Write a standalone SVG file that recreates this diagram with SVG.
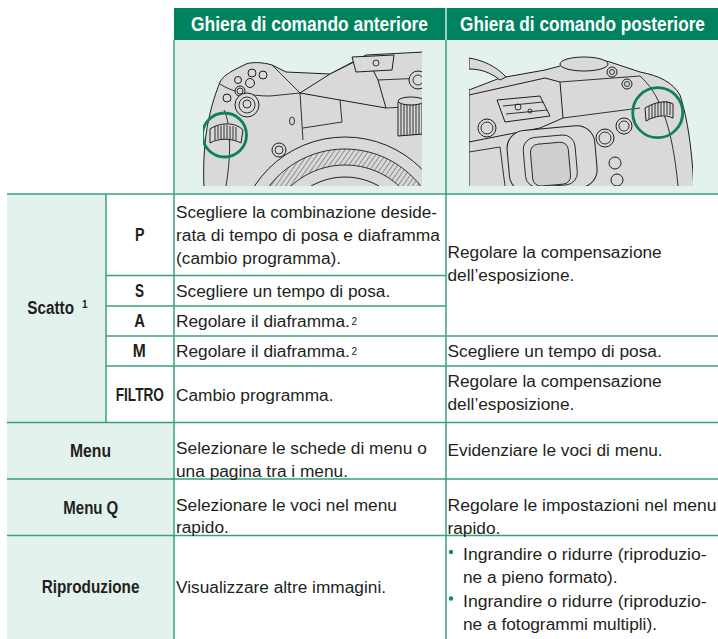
<svg xmlns="http://www.w3.org/2000/svg" width="718" height="639" viewBox="0 0 718 639">
<style>
.hd{font-family:"Liberation Sans",Arial,sans-serif;font-weight:bold;font-size:20px;fill:#ffffff}
.t{font-family:"Liberation Sans",Arial,sans-serif;font-size:17.3px;fill:#231f20}
.b{font-family:"Liberation Sans",Arial,sans-serif;font-weight:bold;font-size:17.5px;fill:#231f20}
.sup{font-family:"Liberation Sans",Arial,sans-serif;font-size:10px;fill:#231f20}
.ln{stroke:#3a9f80;stroke-width:1.5;fill:none}
.lite{fill:#e3f2ed}
.cam{fill:#d9d9d9;stroke:#1e1e1e;stroke-width:1;stroke-linejoin:round}
.cl{fill:none;stroke:#1e1e1e;stroke-width:0.9}
.hl{fill:none;stroke:#0f7f5e;stroke-width:2.8}
.dot{fill:#0f8a66}
</style>
<defs>
<clipPath id="clipL"><rect x="203" y="48" width="219" height="138"/></clipPath>
<clipPath id="clipR"><rect x="469" y="50" width="224" height="136"/></clipPath>
<pattern id="hatch" width="4" height="4" patternUnits="userSpaceOnUse" patternTransform="rotate(35)">
<rect width="4" height="4" fill="#d9d9d9"/><line x1="0" y1="0" x2="0" y2="4" stroke="#1e1e1e" stroke-width="0.8"/>
</pattern>
</defs>

<g id="header">
<rect x="174" y="8" width="544" height="32" fill="#00825f"/>
<line x1="446" y1="8" x2="446" y2="40" stroke="#cde6dd" stroke-width="1.5"/>
<text class="hd" transform="translate(191,31) scale(0.87,1)" x="0" y="0" textLength="272.4" lengthAdjust="spacingAndGlyphs">Ghiera di comando anteriore</text>
<text class="hd" transform="translate(460,31) scale(0.861,1)" x="0" y="0" textLength="284.5" lengthAdjust="spacingAndGlyphs">Ghiera di comando posteriore</text>
</g>

<g id="panel">
<rect x="174" y="40" width="544" height="154" class="lite"/>
</g>

<g id="camera-front" clip-path="url(#clipL)">
<path class="cam" d="M204,190 C203,165 204,140 209,118 C212,104 216,92 220,82 C223,76 230,72 238,68 L246,64 C252,62 262,62 272,65 L286,72 L330,74 L366,55 L424,52 L424,190 Z"/>
<path class="cl" d="M220,84 C232,92 250,96 270,96 L300,93"/>
<path class="cl" d="M272,65 L300,93 L303,140"/>
<path class="cl" d="M224,110 C230,122 232,150 226,186"/>
<path class="cam" d="M300,93 L330,74 L366,56 L378,80 L386,108 L340,100 Z"/>
<path class="cl" d="M378,80 L424,78"/>
<path class="cl" d="M386,108 L424,106"/>
<path class="cam" d="M352,57 L394,55 L392,70 L356,72 Z"/>
<circle class="cl" cx="376" cy="63" r="3"/>
<path class="cl" d="M340,100 L342,122 L303,128"/>
<ellipse class="cl" cx="292" cy="121" rx="2.5" ry="4"/>
<path class="cam" d="M398,102 L424,100 L424,134 L398,136 Z"/>
<path class="cl" d="M401,102 V136 M404,102 V136 M407,102 V135 M410,101 V135 M413,101 V135 M416,101 V135 M419,101 V134 M422,101 V134"/>
<ellipse class="cam" cx="411" cy="101" rx="13" ry="4"/>
<circle class="cam" cx="418" cy="80" r="9"/><circle class="cl" cx="418" cy="80" r="5"/>
<circle class="cam" cx="252" cy="73" r="4"/>
<circle class="cam" cx="263" cy="75" r="4"/>
<circle class="cam" cx="238" cy="80" r="3.5"/>
<circle class="cam" cx="250" cy="83" r="4.5"/>
<circle class="cam" cx="240" cy="91" r="5"/><circle class="cl" cx="240" cy="91" r="3"/>
<circle class="cam" cx="227" cy="98" r="4"/>
<circle class="cam" cx="247" cy="105" r="12"/><circle class="cl" cx="247" cy="105" r="8"/><circle class="cl" cx="247" cy="104" r="4"/>
<circle class="cam" cx="279" cy="150" r="7"/><circle class="cl" cx="279" cy="150" r="4"/>
<circle class="cam" cx="345" cy="245" r="108"/>
<path d="M345,149 A96,96 0 1,1 344.9,149 Z M345,165 A80,80 0 1,0 345.1,165 Z" fill="url(#hatch)" fill-rule="evenodd" stroke="#1e1e1e" stroke-width="0.9"/>
<circle class="cam" cx="345" cy="245" r="68"/>
<circle class="cl" cx="345" cy="245" r="58"/>
<path class="cam" d="M210,129 C220,122 236,122 243,130 L241,143 C232,138 218,138 210,143 Z"/>
<path class="cl" d="M215,127 V140 M218,126 V139 M221,126 V139 M224,125 V139 M227,125 V139 M230,126 V139 M233,126 V140 M236,127 V140"/>
<circle class="hl" cx="224.5" cy="135" r="22"/>
</g>

<g id="camera-rear" clip-path="url(#clipR)">
<path class="cam" d="M469,90 L500,78 L545,70 L560,66 C575,58 595,58 610,62 L640,72 C660,76 672,82 680,95 C688,120 692,150 694,190 L469,190 Z"/>
<path class="cam" d="M469,58 C482,60 496,66 506,77 L500,80 C490,72 480,69 469,69 Z"/>
<path class="cam" d="M469,95 L545,78 L560,82 L563,118 L540,128 L469,142 Z"/>
<path class="cl" d="M560,82 L640,76 M563,118 L640,108"/>
<ellipse class="cam" cx="584" cy="64" rx="24" ry="7"/>
<circle class="cam" cx="612" cy="72" r="5"/><circle class="cl" cx="612" cy="72" r="2.5"/>
<circle class="cam" cx="627" cy="84" r="5"/><circle class="cl" cx="627" cy="84" r="2.5"/>
<path class="cam" d="M497,100 L540,96 L550,116 L505,122 Z"/>
<path class="cl" d="M503,106 L543,102 M506,114 L547,110"/>
<circle class="cl" cx="518" cy="107" r="3"/><circle class="cl" cx="530" cy="111" r="2"/>
<circle class="cam" cx="487" cy="128" r="9"/><circle class="cl" cx="487" cy="128" r="6"/>
<path class="cl" d="M469,152 L500,147 L505,186"/>
<rect class="cam" x="508" y="128" width="88" height="62" rx="18" transform="rotate(-5 552 158)"/>
<rect class="cl" x="524" y="136" width="52" height="50" rx="12" transform="rotate(-5 552 158)"/>
<rect x="531" y="143" width="38" height="42" rx="8" fill="#cfcfcf" stroke="#1e1e1e" stroke-width="0.9" transform="rotate(-5 552 158)"/>
<circle class="cam" cx="605" cy="138" r="9"/><circle class="cl" cx="605" cy="138" r="6"/>
<circle class="cam" cx="624" cy="126" r="8"/><circle class="cl" cx="624" cy="126" r="5"/>
<circle class="cam" cx="615" cy="163" r="6"/>
<circle class="cam" cx="617" cy="180" r="6"/>
<path class="cl" d="M640,76 C658,92 672,122 678,186"/>
<path class="cam" d="M645,108 C655,102 666,100 673,104 L673,118 C665,114 655,116 646,121 Z"/>
<path class="cl" d="M649,106 V119 M652,104 V118 M655,103 V117 M658,102 V116 M661,102 V116 M664,101 V115 M667,101 V115 M670,102 V115"/>
<circle class="hl" cx="657.7" cy="112.7" r="25"/>
</g>

<g id="cells">
<rect x="7" y="194" width="99" height="228.5" class="lite"/>
<rect x="7" y="422.5" width="167" height="216.5" class="lite"/>
</g>

<g id="grid">
<line class="ln" x1="7" y1="194" x2="718" y2="194"/>
<line class="ln" x1="106" y1="275.5" x2="446" y2="275.5"/>
<line class="ln" x1="106" y1="306" x2="446" y2="306"/>
<line class="ln" x1="106" y1="336" x2="718" y2="336"/>
<line class="ln" x1="106" y1="366" x2="718" y2="366"/>
<line class="ln" x1="7" y1="422.5" x2="718" y2="422.5"/>
<line class="ln" x1="7" y1="479" x2="718" y2="479"/>
<line class="ln" x1="7" y1="535.5" x2="718" y2="535.5"/>
<line class="ln" x1="106" y1="194" x2="106" y2="422.5"/>
<line class="ln" x1="174" y1="40" x2="174" y2="639"/>
<line class="ln" x1="446" y1="40" x2="446" y2="639"/>
</g>

<g id="labels">
<text class="b" x="27.3" y="314" textLength="46.7" lengthAdjust="spacingAndGlyphs">Scatto</text>
<text class="sup" x="82" y="307.5" font-weight="bold">1</text>
<text class="b" x="135" y="241" textLength="9.5" lengthAdjust="spacingAndGlyphs">P</text>
<text class="b" x="135" y="296.7" textLength="9" lengthAdjust="spacingAndGlyphs">S</text>
<text class="b" x="134.3" y="326.7" textLength="10.7" lengthAdjust="spacingAndGlyphs">A</text>
<text class="b" x="132.7" y="357" textLength="13" lengthAdjust="spacingAndGlyphs">M</text>
<text class="b" x="115.7" y="400.7" textLength="48.3" lengthAdjust="spacingAndGlyphs">FILTRO</text>
<text class="b" x="70" y="456.7" textLength="41" lengthAdjust="spacingAndGlyphs">Menu</text>
<text class="b" x="63.3" y="513.5" textLength="55" lengthAdjust="spacingAndGlyphs">Menu Q</text>
<text class="b" x="41.7" y="593" textLength="97.7" lengthAdjust="spacingAndGlyphs">Riproduzione</text>
</g>

<g id="front-texts">
<text class="t" x="176" y="218.3" textLength="261" lengthAdjust="spacingAndGlyphs">Scegliere la combinazione deside-</text>
<text class="t" x="176" y="241" textLength="264" lengthAdjust="spacingAndGlyphs">rata di tempo di posa e diaframma</text>
<text class="t" x="176" y="264">(cambio programma).</text>
<text class="t" x="176" y="296.7">Scegliere un tempo di posa.</text>
<text class="t" x="176" y="326.7">Regolare il diaframma.</text>
<text class="sup" x="351.5" y="324.5">2</text>
<text class="t" x="176" y="356.7">Regolare il diaframma.</text>
<text class="sup" x="351.5" y="354.5">2</text>
<text class="t" x="176" y="400.7">Cambio programma.</text>
<text class="t" x="176" y="454">Selezionare le schede di menu o</text>
<text class="t" x="176" y="477">una pagina tra i menu.</text>
<text class="t" x="176" y="510.5">Selezionare le voci nel menu</text>
<text class="t" x="176" y="533">rapido.</text>
<text class="t" x="176" y="593">Visualizzare altre immagini.</text>
</g>

<g id="rear-texts">
<text class="t" x="447.5" y="258">Regolare la compensazione</text>
<text class="t" x="447.5" y="281">dell’esposizione.</text>
<text class="t" x="447.5" y="357">Scegliere un tempo di posa.</text>
<text class="t" x="447.5" y="386.5">Regolare la compensazione</text>
<text class="t" x="447.5" y="410">dell’esposizione.</text>
<text class="t" x="447.5" y="456">Evidenziare le voci di menu.</text>
<text class="t" x="447.5" y="511" textLength="269" lengthAdjust="spacingAndGlyphs">Regolare le impostazioni nel menu</text>
<text class="t" x="447.5" y="533.5">rapido.</text>
<circle class="dot" cx="451" cy="552" r="2.2"/>
<text class="t" x="463" y="560" textLength="243.7" lengthAdjust="spacingAndGlyphs">Ingrandire o ridurre (riproduzio-</text>
<text class="t" x="463" y="583">ne a pieno formato).</text>
<circle class="dot" cx="451" cy="598.5" r="2.2"/>
<text class="t" x="463" y="606.5" textLength="243.7" lengthAdjust="spacingAndGlyphs">Ingrandire o ridurre (riproduzio-</text>
<text class="t" x="463" y="629.5">ne a fotogrammi multipli).</text>
</g>
</svg>
